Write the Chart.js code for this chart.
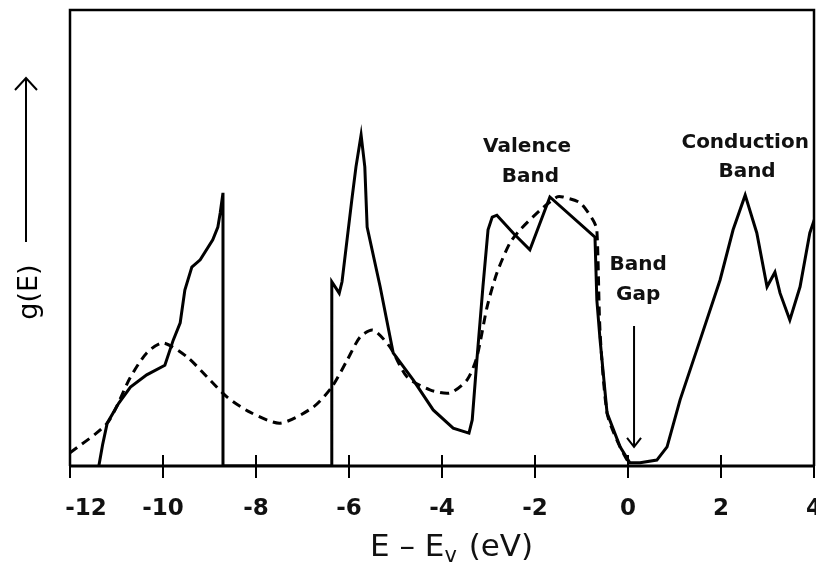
<!DOCTYPE html>
<html>
<head>
<meta charset="utf-8">
<script src="https://cdn.jsdelivr.net/npm/chart.js@4.4.1/dist/chart.umd.min.js"></script>
<style>
  html, body { margin: 0; padding: 0; background: #fff; }
  canvas { display: block; }
</style>
</head>
<body>
<canvas id="dos" width="816" height="564"></canvas>
<script>
// calculated density of states (solid)
var solidE = [-11.38, -11.3, -11.2, -10.95, -10.7, -10.35, -9.96, -9.78, -9.63, -9.53, -9.38, -9.2, -8.93, -8.82, -8.77, -8.71, -8.71,
  -6.37, -6.37, -6.21, -6.15, -5.94, -5.85, -5.74, -5.66, -5.61, -5.33, -5.05, -4.62, -4.19, -3.76, -3.42,
  -3.35, -3.25, -3.12, -3.01, -2.92, -2.82, -2.47, -2.11, -1.68, -0.71, -0.67, -0.6, -0.45, -0.17, 0.04,
  0.26, 0.62, 0.84, 1.12, 1.55, 1.98, 2.26, 2.52, 2.77, 2.99, 3.16, 3.27, 3.48, 3.7, 3.91, 4.04];
var solidG = [0, 4.6, 9.4, 13.8, 17.3, 20.0, 22.1, 27.6, 31.4, 38.6, 43.6, 45.2, 49.6, 52.4, 55.5, 59.9, 0,
  0, 40.4, 37.9, 40.4, 58.3, 65.6, 72.6, 65.6, 52.4, 39.3, 24.8, 18.9, 12.3, 8.3, 7.2,
  10.1, 23.2, 39.3, 51.8, 54.6, 55.0, 51.1, 47.4, 59.0, 50.2, 36.4, 27.6, 11.6, 4.2, 0.7,
  0.7, 1.3, 4.2, 14.5, 27.6, 40.8, 51.8, 59.4, 51.1, 39.3, 42.5, 37.9, 32.0, 39.3, 51.1, 55.0];

// broadened / measured curve (dashed)
var dashedE = [-12, -11.2, -10.71, -10.35, -10.0, -9.48, -9.05, -8.62, -8.13, -7.48, -6.77, -6.37, -6.04, -5.76, -5.48,
  -5.12, -4.75, -4.26, -3.83, -3.46, -3.25, -3.03, -2.82, -2.54, -2.32, -1.89, -1.53, -1.4, -1.03, -0.75, -0.67,
  -0.6, -0.45, -0.24, -0.02, 0.08];
var dashedG = [2.9, 9.4, 19.3, 24.8, 27.0, 23.9, 19.5, 15.1, 11.8, 9.4, 12.9, 17.3, 23.2, 28.3, 29.8,
  26.1, 19.5, 16.7, 16.0, 18.9, 23.9, 34.9, 42.3, 48.9, 51.8, 56.1, 59.0, 59.0, 57.7, 53.9, 51.8,
  29.2, 11.6, 5.7, 1.3, 0.4];

var tickValues = [-12, -10, -8, -6, -4, -2, 0, 2, 4];

// text labels placed in data units: [text, E, g]
var notes = [
  ['Valence', -2.17, 70.0], ['Band', -2.1, 63.4],
  ['Conduction', 2.52, 70.8], ['Band', 2.56, 64.5],
  ['Band', 0.22, 44.1], ['Gap', 0.22, 37.5]
];
var gapArrow = { e: 0.13, from: 30.7, to: 4.2 };

function pts(xs, ys) {
  return xs.map(function (x, i) { return { x: x, y: ys[i] }; });
}

var decor = {
  id: 'decor',
  afterDraw: function (chart) {
    var c = chart.ctx, a = chart.chartArea;
    var xs = chart.scales.x, ys = chart.scales.y;
    c.save();
    c.strokeStyle = '#000';
    // frame
    c.lineWidth = 2.5;
    c.beginPath();
    c.moveTo(a.left, a.bottom); c.lineTo(a.left, a.top);
    c.lineTo(a.right, a.top); c.lineTo(a.right, a.bottom);
    c.stroke();
    c.lineWidth = 3;
    c.beginPath();
    c.moveTo(a.left - 1, a.bottom); c.lineTo(a.right + 1, a.bottom);
    c.stroke();
    // ticks crossing the axis
    c.lineWidth = 2;
    tickValues.forEach(function (v) {
      var px = Math.round(xs.getPixelForValue(v));
      c.beginPath();
      c.moveTo(px, a.bottom - 11); c.lineTo(px, a.bottom + 12);
      c.stroke();
    });
    // annotations
    c.fillStyle = '#111';
    c.font = 'bold 20px "DejaVu Sans"';
    c.textAlign = 'center';
    c.textBaseline = 'middle';
    notes.forEach(function (n) {
      c.fillText(n[0], xs.getPixelForValue(n[1]), ys.getPixelForValue(n[2]));
    });
    // band gap arrow
    var ax = xs.getPixelForValue(gapArrow.e);
    var y1 = ys.getPixelForValue(gapArrow.from), y2 = ys.getPixelForValue(gapArrow.to);
    c.lineWidth = 2;
    c.beginPath();
    c.moveTo(ax, y1); c.lineTo(ax, y2);
    c.moveTo(ax - 7, y2 - 9); c.lineTo(ax, y2); c.lineTo(ax + 7, y2 - 9);
    c.stroke();
    // y title: g(E) with arrow
    c.save();
    c.translate(30, 292);
    c.rotate(-Math.PI / 2);
    c.font = '27px "DejaVu Sans"';
    c.fillStyle = '#000';
    c.fillText('g(E)', 0, 0);
    c.restore();
    c.lineWidth = 2;
    c.beginPath();
    c.moveTo(26, 242); c.lineTo(26, 78);
    c.moveTo(15, 90); c.lineTo(26, 78); c.lineTo(37, 90);
    c.stroke();
    // x title: E - Ev (eV)
    c.font = '31px "DejaVu Sans"';
    c.textAlign = 'left';
    c.textBaseline = 'alphabetic';
    var x0 = 370, yb = 556;
    var p1 = 'E \u2013 E';
    c.fillText(p1, x0, yb);
    var w1 = c.measureText(p1).width;
    c.font = '21px "DejaVu Sans"';
    c.fillText('v', x0 + w1, yb + 6);
    var w2 = c.measureText('v').width;
    c.font = '31px "DejaVu Sans"';
    c.fillText(' (eV)', x0 + w1 + w2 + 2, yb);
    c.restore();
  }
};

new Chart(document.getElementById('dos').getContext('2d'), {
  type: 'line',
  data: {
    datasets: [{
      label: 'calculated',
      data: pts(solidE, solidG),
      borderColor: '#000',
      borderWidth: 3,
      pointRadius: 0,
      tension: 0,
      fill: false
    }, {
      label: 'broadened',
      data: pts(dashedE, dashedG),
      borderColor: '#000',
      borderWidth: 3,
      borderDash: [9, 6],
      pointRadius: 0,
      tension: 0.25,
      fill: false
    }]
  },
  options: {
    responsive: false,
    animation: false,
    devicePixelRatio: 1,
    layout: { padding: { left: 70, right: 2, top: 10, bottom: 0 } },
    plugins: { legend: { display: false }, tooltip: { enabled: false } },
    scales: {
      x: {
        type: 'linear',
        min: -12,
        max: 4,
        grid: { display: false, drawTicks: false },
        border: { display: false },
        afterFit: function (s) { s.height = 98; s.paddingLeft = 0; s.paddingRight = 0; },
        afterBuildTicks: function (s) { s.ticks = tickValues.map(function (v) { return { value: v }; }); },
        ticks: {
          padding: 29,
          color: '#111',
          maxRotation: 0,
          autoSkip: false,
          font: { family: '"DejaVu Sans"', size: 23, weight: 'bold' },
          // first label sits to the right of its tick, as in the original
          callback: function (v) { return v === -12 ? '    -12' : String(v); }
        }
      },
      y: {
        display: false,
        min: 0,
        max: 100
      }
    }
  },
  plugins: [decor]
});
</script>
</body>
</html>
